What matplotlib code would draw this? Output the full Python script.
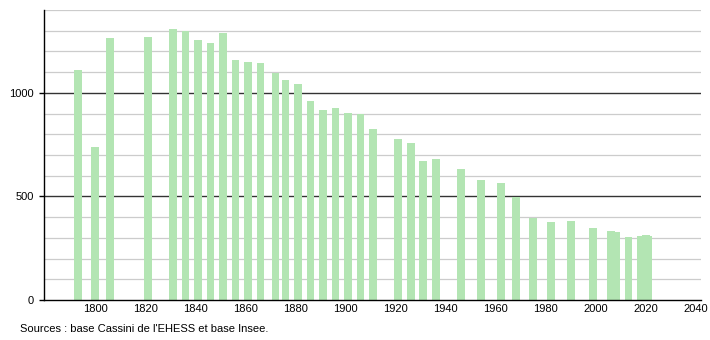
import matplotlib
matplotlib.use("Agg")
from matplotlib import pyplot as plt

plt.rcParams["font.family"] = ["Liberation Sans", "DejaVu Sans"]

# census years and population
years = [1793, 1800, 1806, 1821, 1831, 1836, 1841, 1846, 1851, 1856,
         1861, 1866, 1872, 1876, 1881, 1886, 1891, 1896, 1901, 1906,
         1911, 1921, 1926, 1931, 1936, 1946, 1954, 1962, 1968, 1975,
         1982, 1990, 1999, 2006, 2008, 2013, 2018, 2020, 2021]
population = [1112, 739, 1263, 1268, 1306, 1298, 1253, 1243, 1287, 1161,
              1150, 1145, 1097, 1060, 1045, 963, 919, 929, 903, 898,
              827, 777, 758, 672, 680, 632, 580, 567, 497, 395,
              375, 379, 348, 335, 330, 305, 310, 312, 311]
x_ticks = [1800, 1820, 1840, 1860, 1880, 1900, 1920, 1940, 1960, 1980, 2000, 2020, 2040]
y_ticks = [0, 500, 1000]
source = "Sources : base Cassini de l'EHESS et base Insee."

fig = plt.figure(figsize=(7.1, 3.4), dpi=100)
ax = fig.add_axes([44 / 710, 40 / 340, 657 / 710, 290 / 340])

# light grid every 100, darker at 500 and 1000
for v in range(100, 1401, 100):
    dark = v in (500, 1000)
    ax.axhline(v, color="#333333" if dark else "#cccccc", lw=1.0 if dark else 0.9, zorder=0)

ax.bar(years, population, width=3.1, color="#b3e5b3", zorder=2)

ax.set_xlim(1779.5, 2042)
ax.set_ylim(0, 1400)
ax.set_xticks(x_ticks)
ax.set_yticks(y_ticks)
ax.tick_params(axis="x", length=0, pad=3, labelsize=8)
ax.tick_params(axis="y", length=3.5, width=1, pad=4, labelsize=8)

for side in ("top", "right"):
    ax.spines[side].set_visible(False)
ax.spines["left"].set_linewidth(1)
ax.spines["bottom"].set_linewidth(1)

fig.text(20 / 710, 1 - 329 / 340, source, fontsize=8, va="center", ha="left")

fig.savefig("out.png", dpi=100)
